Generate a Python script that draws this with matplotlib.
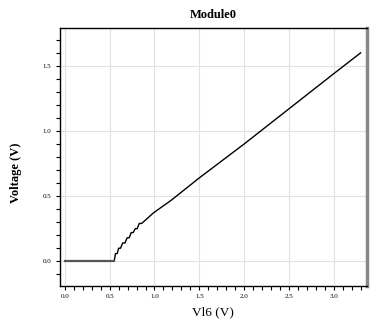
import numpy as np
import matplotlib.pyplot as plt
from matplotlib.ticker import MultipleLocator

# sweep of Vl6 and the output voltage
vl6 = [0.0, 0.55, 0.565, 0.584, 0.60, 0.621, 0.645, 0.67, 0.695, 0.718,
       0.74, 0.762, 0.785, 0.807, 0.83, 0.856, 0.89, 0.93, 0.986, 1.19,
       1.5, 2.0, 2.5, 3.0, 3.3]
voltage = [0.0, 0.0, 0.059, 0.059, 0.10, 0.10, 0.14, 0.14, 0.18, 0.18,
           0.22, 0.22, 0.25, 0.25, 0.29, 0.29, 0.31, 0.335, 0.37, 0.47,
           0.64, 0.90, 1.17, 1.44, 1.60]

plt.rcParams['font.family'] = ['Liberation Serif', 'DejaVu Serif']

fig = plt.figure(figsize=(3.74, 3.23), dpi=100)
ax = fig.add_axes([0.160, 0.1146, 0.821, 0.7984])

ax.plot(vl6, voltage, color='black', linewidth=1.0)
ax.plot(vl6[:2], voltage[:2], color='#555555', linewidth=1.6)

ax.set_xlim(-0.056, 3.37)
ax.set_ylim(-0.19, 1.79)
ax.xaxis.set_major_locator(MultipleLocator(0.5))
ax.xaxis.set_minor_locator(MultipleLocator(0.1))
ax.yaxis.set_major_locator(MultipleLocator(0.5))
ax.yaxis.set_minor_locator(MultipleLocator(0.1))
ax.xaxis.set_major_formatter(plt.FormatStrFormatter('%.1f'))
ax.yaxis.set_major_formatter(plt.FormatStrFormatter('%.1f'))
ax.grid(True, which='major', color='#e2e2e2', linewidth=0.8)
ax.set_axisbelow(True)

ax.tick_params(which='both', direction='out', labelsize=5, color='black', pad=3)
ax.tick_params(which='major', length=3, width=0.8)
ax.tick_params(which='minor', length=3, width=0.8)

for s in ['left', 'bottom', 'top']:
    ax.spines[s].set_linewidth(1.0)
ax.spines['right'].set_color('#888888')
ax.spines['right'].set_linewidth(2.5)

ax.set_title('Module0', fontsize=9, fontweight='bold', pad=7)
ax.set_xlabel('Vl6 (V)', fontsize=9.5, labelpad=5)
ax.set_ylabel('Voltage (V)', fontsize=9, fontweight='semibold', labelpad=15)
ax.yaxis.label.set_y(0.44)

fig.savefig('out.png', dpi=100)
